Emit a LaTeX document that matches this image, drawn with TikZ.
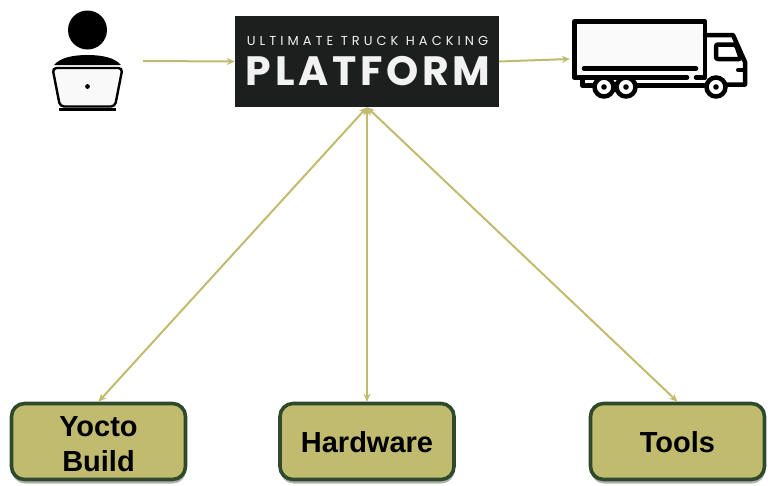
\documentclass[tikz,border=0pt]{standalone}
\usepackage{fontspec}
\setmainfont{Liberation Sans}
\newfontfamily\platfont[LetterSpace=9]{Poppins}
\newfontfamily\platsmall[LetterSpace=31]{Poppins}
\usetikzlibrary{shadows,arrows.meta}
\definecolor{olive}{HTML}{C0BB6F}
\definecolor{boxedge}{HTML}{2F4A2B}
\definecolor{platbg}{HTML}{1D1F1F}
\tikzset{
    link/.style={draw=olive, line width=2pt, {Stealth[length=8pt,width=7pt]}-{Stealth[length=8pt,width=7pt]}},
    flow/.style={draw=olive, line width=2pt, -{Stealth[length=8pt,width=7pt]}},
    taskbox/.style={draw=boxedge, fill=olive, line width=3.6pt, rounded corners=13pt,
        minimum width=174pt, minimum height=76pt, align=center, font=\fontsize{29}{35}\selectfont\bfseries,
        inner sep=0pt, drop shadow={shadow xshift=0.5pt, shadow yshift=-4pt, fill=black, opacity=0.3}},
    icon/.style={line width=4.5pt, line join=round, line cap=round}
}
\begin{document}
\begin{tikzpicture}[x=1pt, y=-1pt]
    \useasboundingbox (0,0) rectangle (777,485);
    % platform logo
    \node[fill=platbg, minimum width=264pt, minimum height=91pt, inner sep=0pt] (platform) at (367,61.5) {};
    \node[text=white!95!black, font=\platsmall\fontsize{13}{13}\selectfont, inner sep=0pt] (plattop) at (367.5,40.5) {ULTIMATE TRUCK HACKING};
    \node[text=white!95!black, font=\platfont\fontsize{41}{41}\selectfont\bfseries, inner sep=0pt] (platname) at (368,71.5) {PLATFORM};
    % user
    \fill (87.5,30) circle (19.5);
    \fill (54,65) .. controls (60,58) and (72,55) .. (87.5,55) .. controls (103,55) and (115,58) .. (121,65) -- cycle;
    \draw[line width=2.4pt, fill=gray!5, rounded corners=4pt] (52.5,68) -- (122.5,68) -- (115,106.5) -- (60,106.5) -- cycle;
    \fill (87.5,86.5) circle (2.4);
    \draw[line width=2.4pt] (59,109.5) -- (116,109.5);
    \coordinate (userout) at (143,61);
    % truck
    \draw[icon, fill=gray!4] (574.5,77.5) -- (574.5,21.5) -- (705,21.5) -- (705,77.5) -- (696,77.5);
    \draw[icon] (574.5,77.5) -- (687,77.5);
    \draw[icon] (584,68.5) -- (696,68.5);
    \draw[icon] (582.5,77.5) -- (582.5,85.5) -- (592,85.5);
    \draw[icon] (705,35) -- (733,35) -- (745,62) -- (745,84.5) -- (728,84.5);
    \draw[icon, rounded corners=2pt] (716,44.5) -- (736,44.5) -- (741,59) -- (716,59) -- cycle;
    \draw[icon] (637,85.5) -- (704,85.5);
    \draw[icon, line width=4pt] (738,70) -- (745,70);
    \foreach \wx in {604,626,716}{
        \draw[line width=4.5pt, fill=white] (\wx,87) circle (9.5);
        \fill (\wx,87) circle (2.8);
    }
    \coordinate (truckin) at (570,59);
    % bottom row
    \node[taskbox] (yocto) at (98.5,441.5) {\rule{0pt}{25pt}Yocto\\Build};
    \node[taskbox, text height=23pt] (hardware) at (367,441.5) {Hardware};
    \node[taskbox, text height=23pt] (tools) at (677.5,441.5) {Tools};
    \draw[flow] (userout) -- (platform.west);
    \draw[flow] (platform.east) -- (truckin);
    \draw[link] (platform.south) -- (yocto.north);
    \draw[link] (platform.south) -- (hardware.north);
    \draw[link] (platform.south) -- (tools.north);
\end{tikzpicture}
\end{document}
